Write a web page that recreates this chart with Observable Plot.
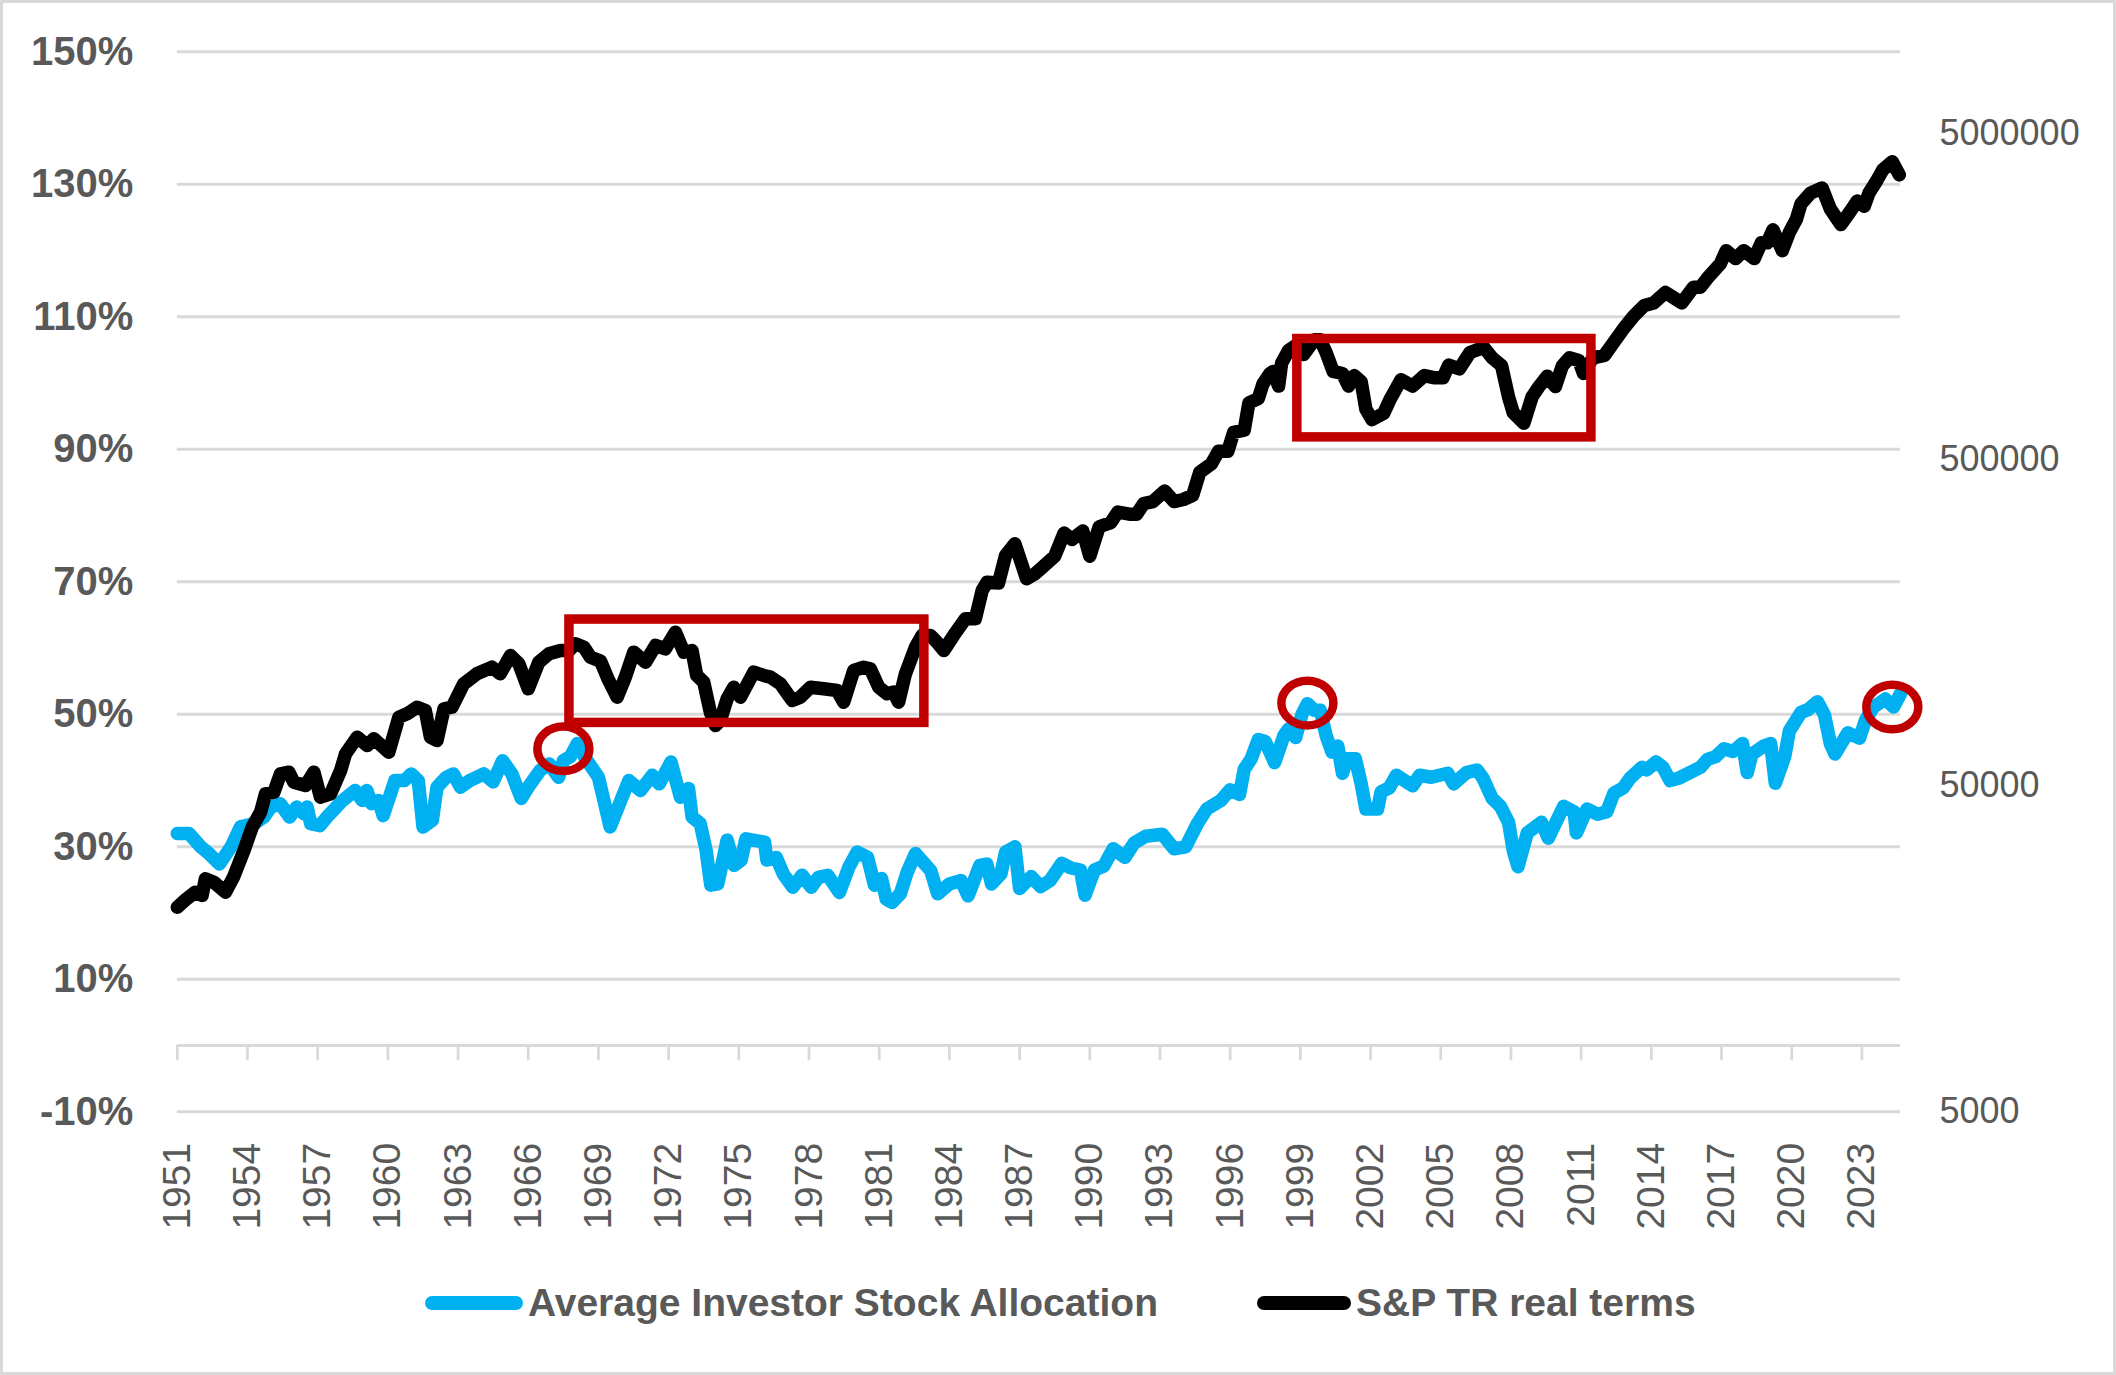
<!DOCTYPE html>
<html><head><meta charset="utf-8">
<script src="https://cdn.jsdelivr.net/npm/d3@7"></script>
<script src="https://cdn.jsdelivr.net/npm/@observablehq/plot@0.6"></script>
<style>
html,body{margin:0;padding:0;background:#fff;}
#wrap{position:relative;width:2116px;height:1375px;overflow:hidden;background:#fff;font-family:"Liberation Sans",Arial,sans-serif;}
#chart{position:absolute;left:0;top:0;}
#frame{position:absolute;left:0;top:0;width:2116px;height:1375px;box-sizing:border-box;border:3px solid #d9d9d9;pointer-events:none;}
.item{position:absolute;top:1280px;height:46px;display:flex;align-items:center;font-weight:bold;font-size:39px;color:#595959;white-space:nowrap;}
.sw{display:inline-block;height:14px;border-radius:7px;margin-right:5px;}
</style></head>
<body><div id="wrap"><div id="chart"></div><div id="legend"></div><div id="frame"></div></div>
<script>
// ---- data ----
const seriesNames = ["Average Investor Stock Allocation", "S&P TR real terms"];
const seriesColors = ["#00b0f0", "#000000"];

const blueYears = [1951.0,1951.5,1952.0,1952.35,1952.8,1953.3,1953.7,1954.3,1954.7,1955.0,1955.4,1955.8,1956.1,1956.4,1956.55,1956.7,1957.1,1957.4,1957.8,1958.0,1958.6,1958.9,1959.1,1959.3,1959.6,1959.8,1960.3,1960.7,1961.0,1961.3,1961.5,1961.9,1962.1,1962.5,1962.8,1963.1,1963.5,1964.1,1964.5,1964.9,1965.3,1965.7,1966.0,1966.5,1966.9,1967.3,1967.5,1967.8,1968.1,1968.4,1969.0,1969.5,1969.9,1970.3,1970.8,1971.3,1971.6,1972.1,1972.5,1972.85,1973.0,1973.35,1973.6,1973.8,1974.1,1974.5,1974.8,1975.1,1975.3,1976.1,1976.2,1976.6,1976.9,1977.3,1977.7,1978.1,1978.4,1978.8,1979.3,1979.7,1980.05,1980.5,1980.8,1981.1,1981.3,1981.55,1981.9,1982.2,1982.55,1983.2,1983.5,1984.0,1984.5,1984.8,1985.3,1985.6,1985.8,1986.2,1986.4,1986.8,1987.0,1987.5,1987.9,1988.3,1988.8,1989.2,1989.6,1989.8,1990.2,1990.6,1991.0,1991.5,1991.9,1992.4,1993.1,1993.6,1994.1,1994.6,1995.0,1995.6,1996.0,1996.4,1996.6,1996.9,1997.2,1997.5,1997.9,1998.3,1998.5,1998.8,1999.07,1999.3,1999.6,1999.85,2000.1,2000.35,2000.6,2000.8,2001.0,2001.35,2001.6,2001.8,2002.3,2002.45,2002.8,2003.1,2003.8,2004.1,2004.6,2005.3,2005.55,2005.84,2006.1,2006.55,2006.8,2007.2,2007.55,2007.9,2008.1,2008.3,2008.7,2009.3,2009.6,2010.25,2010.7,2010.8,2011.25,2011.7,2012.1,2012.4,2012.8,2013.1,2013.6,2013.8,2014.2,2014.5,2014.8,2015.2,2016.1,2016.4,2016.75,2017.1,2017.5,2017.9,2018.1,2018.3,2018.8,2019.1,2019.3,2019.7,2019.9,2020.4,2020.7,2021.1,2021.4,2021.65,2021.85,2022.4,2022.9,2023.15,2023.5,2024.0,2024.35,2024.65];
const bluePct = [32.0,32.0,30.0,29.0,27.4,30.0,33.0,33.5,34.5,36.0,36.5,34.5,36.0,35.0,36.0,33.5,33.2,34.5,36.0,36.8,38.5,37.0,38.5,36.5,37.0,34.7,40.0,40.0,41.0,40.0,33.0,34.0,39.0,40.5,41.0,39.0,40.0,41.0,39.8,43.0,41.0,37.3,39.0,41.5,42.5,40.5,43.0,43.6,45.6,43.6,40.5,33.0,36.5,40.0,38.5,40.8,39.5,42.8,37.5,38.8,34.5,33.5,29.5,24.2,24.4,31.0,27.2,28.0,31.2,30.7,28.0,28.4,25.9,23.9,25.7,23.9,25.4,25.7,23.1,26.9,29.2,28.4,24.2,25.2,22.1,21.6,22.9,26.2,29.0,26.4,22.9,24.4,24.9,22.6,27.2,27.4,24.4,25.9,29.2,30.0,23.7,25.5,24.0,24.9,27.5,26.8,26.5,22.7,26.5,27.1,29.7,28.4,30.6,31.6,31.9,29.7,30.0,33.5,35.7,37.0,38.6,37.9,41.7,43.3,46.2,45.9,42.7,46.8,47.8,46.5,50.0,51.6,50.6,50.6,46.8,44.3,45.2,41.1,43.3,43.3,39.5,35.7,35.7,38.3,38.9,40.8,39.2,40.8,40.5,41.1,39.5,40.4,41.2,41.6,40.4,37.3,36.1,33.7,29.4,27.0,32.1,33.7,31.3,36.1,35.3,32.1,35.7,34.9,35.3,38.1,38.9,40.4,42.0,41.6,42.8,42.0,40.0,40.4,42.0,43.2,43.6,44.8,44.4,45.6,41.2,44.0,45.2,45.6,39.6,43.6,47.5,50.3,50.7,51.9,49.9,45.6,44.0,47.2,46.4,49.1,51.1,52.3,51.1,53.1];

const blackYears = [1951.0,1951.4,1951.77,1952.06,1952.2,1952.56,1953.06,1953.4,1953.85,1954.2,1954.56,1954.77,1955.13,1955.41,1955.77,1955.98,1956.48,1956.84,1957.12,1957.55,1957.98,1958.19,1958.69,1959.12,1959.4,1960.04,1960.47,1960.82,1961.25,1961.6,1961.82,1962.1,1962.4,1962.74,1963.24,1963.8,1964.45,1964.8,1965.24,1965.6,1966.0,1966.45,1966.88,1967.38,1967.74,1968.02,1968.38,1968.66,1969.09,1969.4,1969.8,1970.15,1970.51,1971.01,1971.44,1971.86,1972.29,1972.65,1973.0,1973.2,1973.5,1973.78,1974.0,1974.21,1974.5,1974.78,1975.07,1975.64,1976.06,1976.35,1976.78,1977.28,1977.63,1978.06,1978.63,1979.2,1979.48,1979.91,1980.34,1980.62,1980.98,1981.33,1981.62,1981.83,1982.12,1982.55,1982.83,1983.19,1983.47,1983.76,1984.18,1984.68,1985.11,1985.4,1985.61,1986.1,1986.4,1986.8,1987.3,1987.66,1988.0,1988.5,1988.9,1989.24,1989.7,1990.0,1990.4,1990.9,1991.2,1991.7,1992.0,1992.3,1992.7,1993.2,1993.6,1994.0,1994.4,1994.7,1995.2,1995.5,1995.9,1996.15,1996.6,1996.8,1997.2,1997.4,1997.7,1997.85,1998.07,1998.2,1998.5,1998.9,1999.14,1999.6,1999.85,2000.1,2000.4,2000.8,2001.06,2001.3,2001.6,2001.8,2002.06,2002.56,2002.85,2003.3,2003.8,2004.3,2004.7,2005.1,2005.34,2005.8,2006.25,2006.84,2007.2,2007.6,2007.9,2008.1,2008.55,2008.9,2009.2,2009.55,2009.9,2010.2,2010.5,2010.9,2011.1,2011.5,2012.0,2012.4,2012.8,2013.25,2013.7,2014.1,2014.6,2014.96,2015.3,2015.8,2016.1,2016.45,2016.95,2017.2,2017.6,2017.95,2018.4,2018.7,2018.95,2019.2,2019.6,2019.9,2020.2,2020.4,2020.8,2021.3,2021.65,2022.1,2022.5,2022.8,2023.1,2023.3,2023.65,2023.9,2024.3,2024.6];
const blackValues = [21210,22510,23580,23040,25930,25310,23580,26220,31660,37330,41500,47250,47790,54420,55040,51290,50100,55040,46130,47250,55700,62680,70480,66470,69690,63390,81170,83150,87100,85100,70480,68860,86130,87100,102780,110300,115560,110300,125500,118360,99200,119700,127000,130000,130000,136300,133100,124000,120600,106700,93500,107700,128500,119700,134700,131600,147900,128500,130000,109000,103950,84100,76550,79300,92450,100300,93500,111550,109000,107700,102780,91350,93500,100300,99200,98000,90250,112900,115560,114250,100300,95750,96850,90250,110300,133100,144550,144550,137900,130000,144550,162650,162650,198600,210600,209400,254300,276200,215700,223500,235000,253100,297900,285000,302450,253100,311550,320950,345650,340550,340550,366800,372250,400900,372250,377800,389200,458100,486100,531350,531350,607200,616300,747500,769900,854000,919900,933500,841500,990500,1083000,1132000,1051500,1166500,1166500,1067000,933500,919900,841500,906000,867000,714800,663750,694000,769900,879900,841500,906000,893000,893000,976000,951000,1067000,1106000,1027000,972000,778500,697000,647500,778500,838500,902500,838500,972000,1027000,1008500,919900,1027000,1046000,1147500,1259000,1380500,1487000,1514000,1631000,1571000,1514000,1692000,1692000,1822000,1997000,2190000,2071000,2190000,2071000,2314000,2314000,2538000,2190000,2492000,2734000,3052000,3287000,3410000,2942000,2633000,2888000,3109000,2997000,3287000,3606000,3881000,4104000,3741000];

// axis ticks
const leftTicks = [-10, 10, 30, 50, 70, 90, 110, 130, 150];
const rightTicks = [5000, 50000, 500000, 5000000];
const xTicks = d3.range(1951, 2024, 3);

// annotations (data coordinates)
const boxYear1 = [1967.76, 1998.87];
const boxYear2 = [1982.93, 2011.44];
const boxPctTop = [64.3, 106.65];
const boxPctBottom = [48.7, 91.8];
const ringYears = [1967.5, 1999.3, 2024.3];
const ringPct = [44.8, 51.7, 51.1];

// ---- build tables ----
const blue = blueYears.map((x, i) => ({x, v: bluePct[i]}));
const black = blackYears.map((x, i) => ({x, v: blackValues[i]}));
const boxes = boxYear1.map((x1, i) => ({x1, x2: boxYear2[i], y1: boxPctBottom[i], y2: boxPctTop[i]}));
const rings = ringYears.map((x, i) => ({x, y: ringPct[i]}));

// secondary (log) axis mapped onto the primary percentage axis
const rightScale = d3.scaleLog().domain([5000, 8922000]).range([-10, 150]);

const ellipse = {
  draw(ctx, size) {
    const rx = Math.sqrt(size / Math.PI), ry = rx * 0.86, k = 0.5523;
    ctx.moveTo(rx, 0);
    ctx.bezierCurveTo(rx, ry * k, rx * k, ry, 0, ry);
    ctx.bezierCurveTo(-rx * k, ry, -rx, ry * k, -rx, 0);
    ctx.bezierCurveTo(-rx, -ry * k, -rx * k, -ry, 0, -ry);
    ctx.bezierCurveTo(rx * k, -ry, rx, -ry * k, rx, 0);
    ctx.closePath();
  }
};

const grid = "#d9d9d9";
const chart = Plot.plot({
  width: 2116,
  height: 1260,
  marginLeft: 176.8,
  marginRight: 216,
  marginTop: 51.3,
  marginBottom: 148.7,
  x: {domain: [1951, 2024.65]},
  y: {domain: [-10, 150]},
  style: {fontFamily: "'Liberation Sans', Arial, sans-serif", color: "#595959", background: "#fff", overflow: "visible"},
  marks: [
    Plot.gridY(leftTicks, {stroke: grid, strokeOpacity: 1, strokeWidth: 3}),
    Plot.ruleY([0], {stroke: grid, strokeWidth: 3}),
    Plot.ruleX(xTicks, {x: d => d, y1: 0, y2: -2.3, stroke: grid, strokeWidth: 2.7}),
    Plot.axisY(leftTicks, {anchor: "left", label: null, tickSize: 0, tickPadding: 44, tickFormat: d => `${d}%`, fontSize: 40, fontWeight: "bold", fill: "#595959"}),
    Plot.axisY(rightTicks.map(v => rightScale(v)), {anchor: "right", label: null, tickSize: 0, tickPadding: 39, tickFormat: d => String(Math.round(rightScale.invert(d))), fontSize: 36, fill: "#595959"}),
    Plot.axisX(xTicks, {anchor: "bottom", label: null, tickSize: 0, tickPadding: 31, tickRotate: -90, tickFormat: d => String(d), fontSize: 39, fill: "#595959"}),
    Plot.line(blue, {x: "x", y: "v", stroke: seriesColors[0], strokeWidth: 13.5, strokeLinejoin: "round", strokeLinecap: "round"}),
    Plot.line(black, {x: "x", y: d => rightScale(d.v), stroke: seriesColors[1], strokeWidth: 13.5, strokeLinejoin: "round", strokeLinecap: "round"}),
    Plot.rect(boxes, {x1: "x1", x2: "x2", y1: "y1", y2: "y2", fill: "none", stroke: "#c00000", strokeWidth: 9.5}),
    Plot.dot(rings, {x: "x", y: "y", r: 26, symbol: ellipse, fill: "none", stroke: "#c00000", strokeWidth: 8.5})
  ]
});
document.getElementById("chart").appendChild(chart);

// legend below the chart
const legendLeft = [425, 1257];
const swatchWidth = [98, 94];
const legend = document.getElementById("legend");
seriesNames.forEach((name, i) => {
  const item = document.createElement("div");
  item.className = "item";
  item.style.left = legendLeft[i] + "px";
  const sw = document.createElement("span");
  sw.className = "sw";
  sw.style.width = swatchWidth[i] + "px";
  sw.style.background = seriesColors[i];
  item.appendChild(sw);
  item.appendChild(document.createTextNode(name));
  legend.appendChild(item);
});
</script>
</body></html>
